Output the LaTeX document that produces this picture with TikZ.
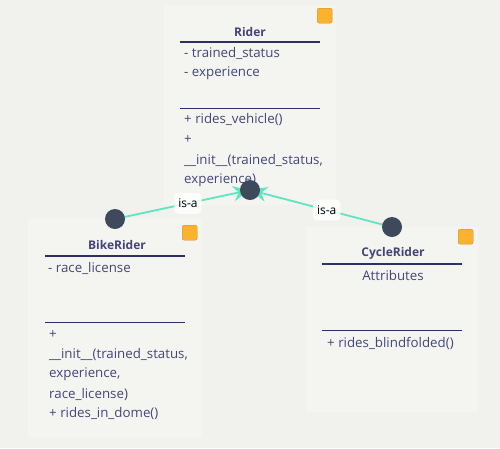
\documentclass[tikz,border=0pt]{standalone}
\usepackage{fontspec}
\setmainfont{Open Sans}
\usetikzlibrary{positioning,arrows.meta}

\definecolor{bgcol}{HTML}{F1F1ED}
\definecolor{boxcol}{HTML}{F4F4F1}
\definecolor{navy}{HTML}{2F2F68}
\definecolor{txtcol}{HTML}{45457A}
\definecolor{tagcol}{HTML}{FBB22E}
\definecolor{dotcol}{HTML}{3E4A5C}
\definecolor{linkcol}{HTML}{5EE6C2}

\pgfdeclarelayer{back}
\pgfdeclarelayer{front}
\pgfsetlayers{back,main,front}

\tikzset{
  classbox/.style={fill=boxcol, anchor=north west, inner sep=0pt},
  tag/.style={fill=tagcol, draw=tagcol!80!black, line width=0.3pt, rounded corners=2pt,
    minimum size=15pt, inner sep=0pt, anchor=north west},
  title/.style={text=navy!90, font=\fontsize{12}{14}\selectfont\bfseries},
  member/.style={text=txtcol, anchor=west, inner sep=0pt, font=\fontsize{13.3}{15}\selectfont},
  rule/.style={draw=navy, line width=1.3pt},
  dot/.style={circle, fill=dotcol, minimum size=20pt, inner sep=0pt},
  isa/.style={draw=linkcol, line width=1.8pt, -{Stealth[length=17pt,width=15pt]}},
  isalabel/.style={fill=white, fill opacity=0.85, text opacity=1, rounded corners=4pt,
    inner xsep=4pt, inner ysep=6pt, font=\fontsize{12}{14}\selectfont}
}

\begin{document}
\begin{tikzpicture}[x=1pt, y=-1pt]
\fill[bgcol] (0,0) rectangle (500,448);
\useasboundingbox (0,0) rectangle (500,448);

% Rider
\node[classbox, minimum width=172pt, minimum height=200pt] (rider) at (164,5) {};
\node[tag] (ridertag) at (317,8) {};
\node[title] (ridername) at (250,32) {Rider};
\draw[rule] (180,42) -- (320,42);
\node[member] (r1) at (184,53) {- trained\_status};
\node[member] (r2) at (184,73) {- experience};
\draw[rule, line width=1pt] (180,108) -- (320,108);
\node[member] (r3) at (184,119) {+ rides\_vehicle()};
\node[member] (r4) at (184,140) {+};
\node[member] (r5) at (184,160) {\_\_init\_\_(trained\_status,};
\node[member] (r6) at (184,180) {experience)};

% BikeRider
\node[classbox, minimum width=174pt, minimum height=220pt] (bike) at (28,218) {};
\node[tag] (biketag) at (182,225) {};
\node[title] (bikename) at (117,245) {BikeRider};
\draw[rule] (45,256) -- (185,256);
\node[member] (b1) at (48,268) {- race\_license};
\draw[rule, line width=1pt] (45,322) -- (185,322);
\node[member] (b2) at (49,335) {+};
\node[member] (b3) at (49,354) {\_\_init\_\_(trained\_status,};
\node[member] (b4) at (49,374) {experience,};
\node[member] (b5) at (49,394) {race\_license)};
\node[member] (b6) at (49,413) {+ rides\_in\_dome()};

% CycleRider
\node[classbox, minimum width=172pt, minimum height=185pt] (cycle) at (306,227) {};
\node[tag] (cycletag) at (458,229) {};
\node[title] (cyclename) at (393,253) {CycleRider};
\draw[rule] (322,264) -- (462,264);
\node[member, anchor=center] (c1) at (393,276) {Attributes};
\draw[rule, line width=1pt] (322,330) -- (462,330);
\node[member] (c2) at (327,343) {+ rides\_blindfolded()};

% soft shadows
\begin{pgfonlayer}{back}
\foreach \b in {rider,bike,cycle}
  \foreach \s in {1,...,5}
    \fill[black, opacity=0.035, rounded corners=\s pt]
      ([shift={(-\s/2,2-\s/2)}]\b.north west) rectangle ([shift={(\s/2+1,\s/2+2)}]\b.south east);
\end{pgfonlayer}

% dots
\begin{pgfonlayer}{front}
\node[dot] (riderdot) at (250,190) {};
\node[dot] (bikedot) at (115,219) {};
\node[dot] (cycledot) at (392,227) {};
\end{pgfonlayer}

\draw[isa] (bikedot.center) -- node[isalabel, pos=0.54] {is-a} (riderdot.center);
\draw[isa] (cycledot.center) -- node[isalabel, pos=0.46] {is-a} (riderdot.center);
\end{tikzpicture}
\end{document}
